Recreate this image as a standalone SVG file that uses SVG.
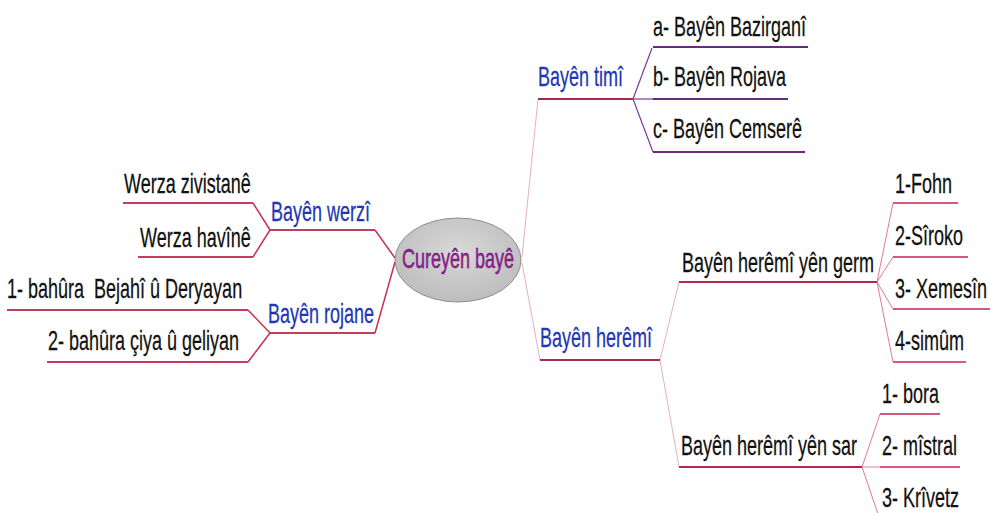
<svg xmlns="http://www.w3.org/2000/svg" width="990" height="513" viewBox="0 0 990 513">
<defs>
<radialGradient id="eg" cx="50%" cy="40%" r="60%">
<stop offset="0" stop-color="#d8d8d8"/>
<stop offset="1" stop-color="#bdbdbd"/>
</radialGradient>
</defs>
<style>
text{font-family:"Liberation Sans",Arial,sans-serif;font-size:27px;fill:#111;stroke:#111;stroke-width:0.25px}
.blue{fill:#2236b4;stroke:#2236b4}
.center{fill:#9b1f9b;stroke:#5a0f5a;stroke-width:0.5px}
line{fill:none}
.u1{stroke:#a02a52;stroke-width:2}
.up{stroke:#6a2a7a;stroke-width:2}
.ur{stroke:#c43c5e;stroke-width:2}
.uc{stroke:#b02a4c;stroke-width:2}
.ul{stroke:#d25a7a;stroke-width:2}
.cl{stroke:#e7b0c0;stroke-width:1}
.cp{stroke:#7a3a9a;stroke-width:1.2}
.cr{stroke:#c8304e;stroke-width:1.5}
.ck{stroke:#e07a96;stroke-width:1}
</style>
<rect width="990" height="513" fill="#ffffff"/>
<g id="connectors">
<line class="cl" x1="522" y1="257" x2="538" y2="99"/>
<line class="cl" x1="522" y1="263" x2="540" y2="360"/>
<line class="cr" x1="375" y1="230" x2="395" y2="258"/>
<line class="cr" x1="375" y1="333" x2="395" y2="262"/>
<line class="cp" x1="633" y1="99" x2="652" y2="48"/>
<line class="cp" x1="633" y1="99" x2="653" y2="99"/>
<line class="cp" x1="633" y1="99" x2="653" y2="152"/>
<line class="cr" x1="270" y1="230" x2="253" y2="203"/>
<line class="cr" x1="270" y1="230" x2="253" y2="257"/>
<line class="cr" x1="270" y1="333" x2="248" y2="310"/>
<line class="cr" x1="270" y1="333" x2="248" y2="362"/>
<line class="cl" x1="660" y1="360" x2="679" y2="282"/>
<line class="cl" x1="660" y1="360" x2="679" y2="467"/>
<line class="ck" x1="877" y1="282" x2="893" y2="203"/>
<line class="ck" x1="877" y1="282" x2="893" y2="257"/>
<line class="ck" x1="877" y1="282" x2="893" y2="309"/>
<line class="ck" x1="877" y1="282" x2="893" y2="362"/>
<line class="ck" x1="862" y1="467" x2="880" y2="414"/>
<line class="ck" x1="862" y1="467" x2="880" y2="467"/>
<line class="ck" x1="862" y1="467" x2="880" y2="520"/>
</g>
<g id="center">
<ellipse cx="458" cy="260" rx="63" ry="42" fill="url(#eg)" stroke="#8e8e8e" stroke-width="1"/>
<text class="center" transform="translate(402,268) scale(0.667,1)">Cureyên bayê</text>
</g>
<g id="bayen-timi">
<text class="blue" transform="translate(538,86) scale(0.667,1)">Bayên timî</text>
<line class="u1" x1="538" y1="99" x2="633" y2="99"/>
</g>
<g id="a-bazirgani">
<text transform="translate(653,36) scale(0.667,1)">a- Bayên Bazirganî</text>
<line class="up" x1="653" y1="47" x2="808" y2="47"/>
</g>
<g id="b-rojava">
<text transform="translate(653,86) scale(0.667,1)">b- Bayên Rojava</text>
<line class="up" x1="653" y1="99" x2="788" y2="99"/>
</g>
<g id="c-cemsere">
<text transform="translate(653,138) scale(0.667,1)">c- Bayên Cemserê</text>
<line class="up" x1="653" y1="152" x2="805" y2="152"/>
</g>
<g id="bayen-werzi">
<text class="blue" transform="translate(271,221) scale(0.667,1)">Bayên werzî</text>
<line class="ur" x1="270" y1="230" x2="375" y2="230"/>
</g>
<g id="werza-zivistane">
<text transform="translate(124,193) scale(0.667,1)">Werza zivistanê</text>
<line class="ur" x1="123" y1="203" x2="253" y2="203"/>
</g>
<g id="werza-havine">
<text transform="translate(140,247) scale(0.667,1)">Werza havînê</text>
<line class="ur" x1="138" y1="257" x2="253" y2="257"/>
</g>
<g id="bayen-rojane">
<text class="blue" transform="translate(268,323) scale(0.667,1)">Bayên rojane</text>
<line class="ur" x1="270" y1="333" x2="375" y2="333"/>
</g>
<g id="bahura-1">
<text transform="translate(7,298) scale(0.667,1)" xml:space="preserve">1- bahûra  Bejahî û Deryayan</text>
<line class="ur" x1="7" y1="310" x2="248" y2="310"/>
</g>
<g id="bahura-2">
<text transform="translate(48,350) scale(0.667,1)">2- bahûra çiya û geliyan</text>
<line class="ur" x1="47" y1="362" x2="248" y2="362"/>
</g>
<g id="bayen-heremi">
<text class="blue" transform="translate(540,347) scale(0.667,1)">Bayên herêmî</text>
<line class="uc" x1="540" y1="360" x2="660" y2="360"/>
</g>
<g id="heremi-germ">
<text transform="translate(682,272) scale(0.667,1)">Bayên herêmî yên germ</text>
<line class="uc" x1="679" y1="282" x2="877" y2="282"/>
</g>
<g id="fohn">
<text transform="translate(895,193) scale(0.667,1)">1-Fohn</text>
<line class="ul" x1="893" y1="203" x2="958" y2="203"/>
</g>
<g id="siroko">
<text transform="translate(895,245) scale(0.667,1)">2-Sîroko</text>
<line class="ul" x1="893" y1="257" x2="968" y2="257"/>
</g>
<g id="xemesin">
<text transform="translate(895,298) scale(0.667,1)">3- Xemesîn</text>
<line class="ul" x1="893" y1="309" x2="990" y2="309"/>
</g>
<g id="simum">
<text transform="translate(895,350) scale(0.667,1)">4-simûm</text>
<line class="ul" x1="893" y1="362" x2="966" y2="362"/>
</g>
<g id="heremi-sar">
<text transform="translate(681,455) scale(0.667,1)">Bayên herêmî yên sar</text>
<line class="uc" x1="679" y1="467" x2="862" y2="467"/>
</g>
<g id="bora">
<text transform="translate(882,403) scale(0.667,1)">1- bora</text>
<line class="ul" x1="880" y1="414" x2="940" y2="414"/>
</g>
<g id="mistral">
<text transform="translate(882,455) scale(0.667,1)">2- mîstral</text>
<line class="ul" x1="880" y1="467" x2="960" y2="467"/>
</g>
<g id="krivetz">
<text transform="translate(882,507) scale(0.667,1)">3- Krîvetz</text>
</g>
</svg>
